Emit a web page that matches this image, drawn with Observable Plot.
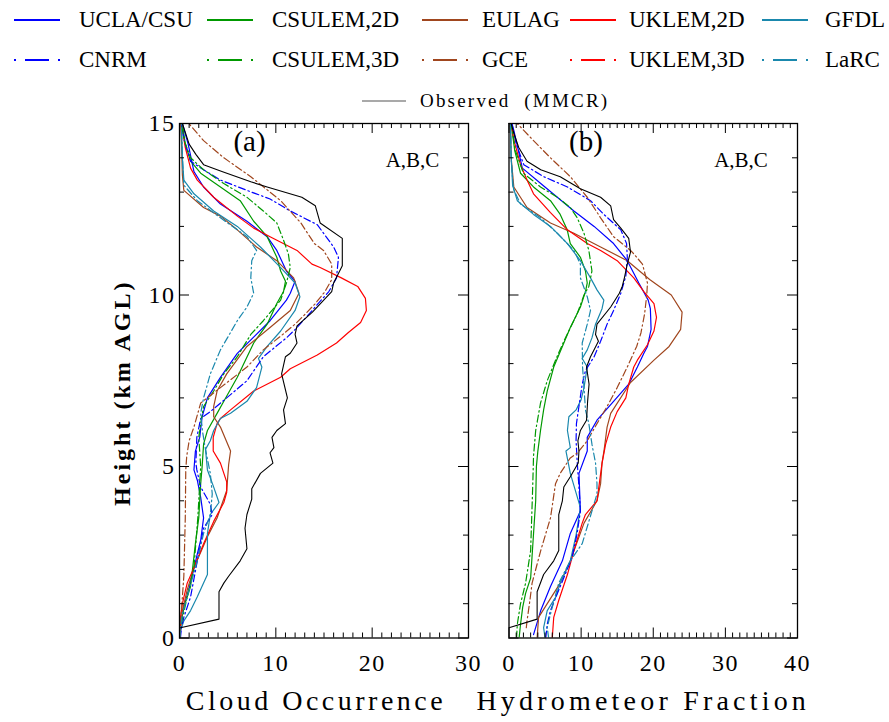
<!DOCTYPE html>
<html>
<head>
<meta charset="utf-8">
<script src="https://cdn.jsdelivr.net/npm/d3@7"></script>
<script src="https://cdn.jsdelivr.net/npm/@observablehq/plot@0.6"></script>
<style>
  body { margin: 0; background: #fff; }
  #chart { position: relative; width: 889px; height: 722px; overflow: hidden; font-family: "Liberation Serif", serif; color: #000; }
  #chart svg.panel { position: absolute; left: 0; top: 0; overflow: visible; }
  .leg { position: absolute; height: 30px; line-height: 30px; white-space: pre; }
  .leg svg { position: absolute; top: 0; }
</style>
</head>
<body>
<div id="chart"></div>
<script>
// Series names (legend order) and the observation label
const seriesNames = ["UCLA/CSU", "CSULEM,2D", "EULAG", "UKLEM,2D", "GFDL",
                     "CNRM", "CSULEM,3D", "GCE", "UKLEM,3D", "LaRC"];
const obsName = "Observed  (MMCR)";
const xTitles = ["Cloud Occurrence", "Hydrometeor Fraction"];
const yTitle = "Height (km AGL)";
const panelTags = ["(a)", "(b)"];
const caseTag = "A,B,C";
const xTickLabelsA = [0, 10, 20, 30];
const xTickLabelsB = [0, 10, 20, 30, 40];
const yTickLabels = [0, 5, 10, 15];

// Profiles as [height km, value %]
// Panel (a): cloud occurrence
const uclaA = [[0,0],[0.3,0.05],[0.9,0.45],[1.6,1.15],[2.45,1.85],[2.85,2.2],[3.5,2.5],[4.1,2.2],[4.6,1.85],[4.9,1.5],[5.45,1.65],[5.85,2.1],[6.45,2.35],[7.0,2.9],[7.6,4.25],[8.3,6.0],[8.8,7.8],[9.25,9.4],[9.85,11.1],[10.05,11.5],[10.4,12.0],[10.7,11.1],[11.3,10.1],[11.7,9.1],[12.15,7.0],[12.65,4.25],[13.15,2.5],[13.6,1.5],[14.4,0.9],[15,0.3]];
const csulem2A = [[0,0.05],[0.4,0.1],[0.9,0.45],[1.5,1.15],[2.75,1.65],[3.5,2.0],[4.5,2.2],[5.0,2.35],[5.65,2.5],[6.05,2.9],[6.55,3.9],[6.9,4.6],[7.6,6.0],[8.6,7.7],[9.15,9.1],[9.75,10.1],[10.1,10.8],[10.4,11.0],[10.7,10.5],[11.1,10.1],[11.7,9.1],[12.15,7.7],[12.75,6.3],[13.15,4.25],[13.55,2.2],[13.9,1.15],[14.4,0.6],[15,0.3]];
const eulagA = [[0,0.05],[0.8,0.3],[1.4,0.8],[2.05,1.5],[2.95,2.9],[3.5,3.9],[4.3,4.9],[5.05,5.1],[5.45,5.3],[6.15,4.25],[6.45,3.55],[6.75,3.55],[7.2,3.9],[7.7,4.9],[8.5,7.0],[9.05,9.4],[9.55,11.5],[10.05,12.4],[10.5,11.85],[11.0,10.1],[11.4,8.0],[11.9,6.0],[12.3,4.25],[12.55,2.5],[13.05,0.45],[13.5,0.3],[14.5,0.2],[15,0.1]];
const uklem2A = [[0,0.05],[0.6,0.1],[1.0,0.3],[1.6,0.8],[2.05,1.5],[2.75,2.5],[3.4,3.55],[3.95,4.6],[4.25,4.9],[4.55,4.9],[5.1,4.25],[5.45,3.5],[5.85,3.5],[6.25,3.9],[6.4,4.25],[6.65,5.3],[7.2,7.7],[7.6,10.5],[7.85,11.5],[8.25,14.3],[8.6,16.3],[8.9,17.5],[9.2,18.8],[9.55,19.4],[9.9,19.3],[10.25,18.5],[10.5,16.8],[10.8,14.6],[10.9,13.75],[11.3,12.2],[11.7,9.4],[11.95,7.7],[12.3,6.0],[12.85,3.55],[13.35,1.85],[13.7,1.15],[14.3,0.6],[15,0.2]];
const gfdlA = [[0,0.05],[0.2,0.1],[0.5,0.45],[0.8,1.15],[1.2,1.85],[1.85,2.9],[3.05,2.9],[3.6,3.2],[3.95,4.1],[4.4,3.55],[4.9,2.9],[5.5,2.7],[5.75,3.2],[6.05,3.55],[6.4,4.25],[6.55,5.3],[6.9,7.0],[7.3,8.0],[7.9,8.55],[8.15,8.2],[8.5,9.1],[8.95,10.5],[9.55,12.0],[9.95,12.5],[10.35,12.0],[10.8,10.5],[11.4,8.4],[12.0,6.0],[12.45,3.55],[12.95,1.5],[13.35,0.45],[14,0.3],[15,0.2]];
const cnrmA = [[0,0.1],[0.3,0.2],[0.6,0.45],[1.2,1.15],[2.25,1.85],[3.2,2.5],[3.6,3.4],[3.9,3.2],[4.4,2.2],[4.9,1.8],[5.1,1.7],[5.85,1.8],[6.4,2.2],[6.6,3.2],[7.0,4.9],[7.5,7.0],[8.2,8.7],[8.75,11.1],[9.05,12.2],[10.1,15.5],[10.5,16.3],[11.1,16.5],[11.4,16.0],[12.05,14.3],[12.45,11.5],[12.8,9.4],[13.05,7.0],[13.35,4.25],[13.65,2.5],[13.9,1.15],[14.5,0.5],[15,0.2]];
const csulem3A = [[0,0.05],[0.3,0.1],[1.2,0.8],[2.05,1.5],[3.5,1.9],[5.0,2.2],[5.85,2.0],[6.25,2.2],[6.75,2.5],[7.2,3.55],[7.7,4.6],[8.2,6.0],[8.85,7.4],[9.25,8.7],[9.85,10.5],[10.35,11.1],[10.8,11.5],[11.2,11.3],[11.6,10.8],[12.1,10.1],[12.45,8.7],[12.85,7.0],[13.25,4.6],[13.65,2.5],[14.0,1.15],[14.5,0.5],[15,0.2]];
const gceA = [[0,0.05],[0.6,0.15],[1.8,0.45],[3.5,0.6],[4.9,0.65],[5.3,0.75],[5.75,1.0],[6.15,1.5],[6.85,2.2],[7.3,4.25],[7.9,7.0],[8.4,8.7],[8.8,10.5],[9.15,12.0],[9.4,12.9],[9.75,14.1],[10.1,15.1],[10.45,15.8],[10.9,15.8],[11.3,14.95],[11.5,14.0],[12.1,12.6],[12.75,10.5],[13.45,7.4],[14.0,4.6],[14.5,2.5],[15,0.97]];
const uklem3A = [];
const larcA = [[0,0.05],[0.3,0.1],[0.7,0.3],[1.2,0.8],[2.25,1.85],[3.05,2.5],[3.6,3.2],[4.2,3.4],[4.8,3.2],[5.5,2.7],[6.0,2.4],[6.55,2.2],[7.0,2.5],[7.7,3.2],[8.4,4.25],[9.25,6.0],[9.65,7.0],[10.05,7.7],[10.5,7.4],[11.0,7.5],[11.3,8.0],[11.7,7.0],[12.25,4.25],[12.75,1.85],[13.2,0.45],[14,0.3],[15,0.2]];
const obsA = [[0.3,0.1],[0.55,4.1],[1.35,4.1],[1.6,4.6],[1.8,5.1],[2.25,6.3],[2.6,7.0],[3.2,6.8],[3.6,7.0],[4.05,7.5],[4.35,7.5],[4.8,8.4],[5.1,9.7],[5.4,9.4],[5.55,9.8],[5.85,9.6],[6.05,10.1],[6.25,11.0],[6.65,10.8],[7.0,11.2],[7.7,10.6],[8.2,11.0],[8.3,11.5],[8.6,12.2],[8.85,12.0],[9.1,12.2],[9.5,13.8],[10.1,15.8],[10.35,16.0],[10.85,16.9],[11.65,16.9],[12.1,14.6],[12.6,14.1],[12.85,12.7],[13.15,9.1],[13.3,7.4],[13.6,4.4],[13.8,2.5],[14.1,1.7],[14.4,1.0],[15,0.3]];

// Panel (b): hydrometeor fraction
const uclaB = [[0.1,3.4],[0.8,4.4],[1.5,5.75],[2.25,7.4],[3.05,8.5],[3.7,9.9],[4.8,9.7],[5.45,10.85],[5.85,10.85],[6.35,12.2],[6.9,14.5],[7.4,16.6],[7.9,17.8],[8.3,18.7],[8.5,19.2],[9.0,19.7],[9.6,19.6],[9.85,19.3],[10.35,18.0],[11.0,16.4],[11.5,14.5],[12.0,11.8],[12.45,9.0],[12.85,6.7],[13.25,4.4],[13.7,1.85],[14.8,0.67],[15,0.4]];
const csulem2B = [[0,1.4],[0.4,1.6],[0.9,1.9],[1.3,2.3],[1.75,3.0],[4.0,3.7],[5.0,3.8],[5.45,4.0],[6.05,4.37],[6.65,4.8],[7.2,5.3],[7.9,6.2],[8.5,7.4],[9.05,8.5],[9.65,9.9],[10.1,10.6],[10.35,10.85],[10.7,10.6],[11.1,9.9],[11.5,8.5],[11.9,8.07],[12.35,7.1],[12.75,5.75],[13.15,3.4],[13.55,1.6],[14.2,0.8],[15,0.3]];
const eulagB = [[0,3.9],[0.6,4.1],[1.6,7.1],[2.25,8.5],[3.35,10.4],[4.0,12.2],[4.5,12.7],[5.1,12.9],[5.5,13.2],[6.15,13.6],[6.55,14.1],[7.45,16.85],[8.1,20.1],[8.5,22.2],[9.0,23.8],[9.5,24.0],[10.0,22.5],[10.45,19.5],[11.0,16.4],[11.4,12.7],[11.8,9.0],[12.1,5.75],[12.55,2.5],[13.15,0.67],[14,0.3],[15,0.2]];
const uklem2B = [[0,6.0],[0.6,6.2],[1.1,6.9],[1.85,8.1],[2.55,9.0],[3.35,10.15],[3.6,10.6],[4.0,12.2],[5.1,12.9],[5.65,13.4],[6.15,14.1],[6.6,15.0],[7.0,16.2],[7.4,16.6],[7.9,17.3],[8.1,17.8],[8.55,19.2],[8.95,20.1],[9.35,20.45],[9.75,20.1],[10.1,18.7],[10.5,17.3],[11.0,15.0],[11.3,12.7],[11.5,10.85],[11.9,8.1],[12.4,5.75],[12.95,3.4],[13.35,2.5],[13.8,1.6],[14.5,0.7],[15,0.3]];
const gfdlB = [[0,5.0],[0.3,4.8],[0.8,5.3],[1.2,6.5],[1.6,7.1],[2.25,8.5],[3.0,9.3],[3.8,9.9],[4.8,8.5],[5.45,7.9],[5.55,8.5],[6.05,8.1],[6.45,8.3],[6.65,9.3],[6.95,10.0],[7.3,10.4],[7.9,10.85],[8.15,10.15],[8.4,10.85],[8.75,11.5],[9.15,12.0],[9.6,12.9],[9.85,13.15],[10.15,12.2],[10.5,11.3],[11.0,9.9],[11.5,8.1],[12.0,5.75],[12.35,3.4],[12.75,1.15],[13.2,0.5],[14,0.3],[15,0.2]];
const cnrmB = [[0,5.1],[0.4,5.3],[0.8,5.75],[1.5,7.1],[2.35,8.75],[3.05,9.45],[3.7,9.9],[4.4,9.7],[5.15,9.45],[5.75,9.3],[6.25,9.35],[6.9,9.8],[7.4,10.15],[7.8,10.6],[8.2,11.8],[8.65,12.7],[9.15,13.6],[9.55,14.5],[10.05,15.5],[10.55,16.2],[11.1,16.4],[11.5,16.3],[11.9,15.5],[12.35,13.15],[12.75,11.3],[13.15,8.1],[13.45,4.8],[13.8,2.05],[14.4,1.0],[15,0.4]];
const csulem3B = [[0,1.05],[0.4,1.15],[1.0,1.6],[1.6,2.3],[2.55,3.0],[4.5,3.3],[5.3,3.4],[6.05,3.7],[6.85,4.37],[7.5,5.3],[8.1,6.45],[8.65,7.6],[9.45,9.45],[10.0,10.4],[10.25,11.07],[10.7,11.5],[11.3,11.07],[11.8,10.4],[12.25,9.46],[12.55,8.5],[12.85,6.7],[13.15,4.37],[13.55,2.0],[14.2,0.9],[15,0.3]];
const gceB = [[0.3,2.4],[0.5,2.5],[1.1,2.9],[1.6,3.2],[2.55,4.4],[3.5,5.75],[4.5,6.45],[4.8,7.1],[5.25,8.5],[5.4,9.5],[5.75,10.85],[6.25,12.2],[6.75,13.6],[7.3,15.0],[7.9,16.4],[8.5,17.7],[8.9,18.3],[9.45,18.8],[10.0,19.1],[10.35,19.2],[10.9,18.5],[11.2,17.3],[11.3,16.85],[11.7,14.5],[12.25,12.7],[12.85,10.85],[13.45,8.5],[14.0,5.75],[14.5,3.4],[15,1.14]];
const uklem3B = [];
const larcB = [[0,5.5],[0.3,5.3],[0.7,5.75],[1.6,6.9],[2.25,8.5],[2.75,10.15],[3.7,11.5],[4.2,12.2],[4.5,12.2],[5.1,12.0],[5.65,11.5],[6.25,11.07],[6.65,10.6],[7.3,10.4],[7.9,10.2],[8.6,10.15],[9.15,10.85],[9.55,11.3],[9.95,10.85],[10.5,9.9],[10.9,9.9],[11.3,9.0],[11.8,6.7],[12.25,4.37],[12.65,1.6],[13.1,0.6],[14,0.3],[15,0.2]];
const obsB = [[0.3,0],[0.55,3.9],[1.35,3.9],[1.85,4.8],[2.25,6.2],[2.55,6.9],[3.6,6.9],[4.0,7.4],[4.4,7.6],[4.7,8.5],[5.1,9.6],[5.45,9.7],[5.75,9.55],[6.05,9.9],[6.35,10.75],[6.9,10.9],[7.4,11.1],[7.9,10.75],[8.2,11.3],[8.65,12.4],[8.85,12.0],[9.15,12.2],[9.65,14.1],[10.05,15.3],[10.25,15.7],[10.5,16.0],[10.9,16.4],[11.25,16.85],[11.65,16.6],[11.95,15.5],[12.2,14.5],[12.6,14.1],[12.85,12.7],[13.1,9.9],[13.45,7.1],[13.65,4.4],[13.9,2.5],[14.3,1.35],[14.7,0.7],[15,0.3]];

const profilesA = [uclaA, csulem2A, eulagA, uklem2A, gfdlA, cnrmA, csulem3A, gceA, uklem3A, larcA];
const profilesB = [uclaB, csulem2B, eulagB, uklem2B, gfdlB, cnrmB, csulem3B, gceB, uklem3B, larcB];

// Line styles: solid for the first row of the legend, dash-dot for the second
const palette = ["#0000ff", "#009900", "#a0461e", "#ff0000", "#1a88ad"];
const styleOf = i => ({
  color: palette[i % 5],
  dashed: i >= 5
});
const DASH_PLOT = "7,3,1.5,3";
const DASH_LEGEND = "2,9,24,9,2";

// Layout
const W = 889, H = 722, TOP = 123, BOTTOM = 637.5;
const SERIF = "Liberation Serif";
const chart = document.getElementById("chart");

// widen the spacing of selected labels after rendering
function spaceText(svg, texts, spacing) {
  d3.select(svg).selectAll("text")
    .filter(function() { return texts.includes(this.textContent); })
    .style("letter-spacing", spacing);
}

function panel({profiles, obs, xMax, left, right, xLabels, title, titleSpacing, tag, tagDx, abcDx, showY, titleDx}) {
  const frameW = right - left, frameH = BOTTOM - TOP;
  const minor = d3.range(0, xMax + 1).filter(d => d % 10 !== 0);
  const major = d3.range(0, xMax + 1, 10);
  const yMinor = d3.range(0, 16).filter(d => d % 5 !== 0);
  const yMajor = [0, 5, 10, 15];
  const marks = [];
  profiles.forEach((p, i) => {
    const s = styleOf(i);
    marks.push(Plot.line(p, {x: d => d[1], y: d => d[0], stroke: s.color, strokeWidth: 1.2,
      strokeDasharray: s.dashed ? DASH_PLOT : null, clip: true}));
  });
  marks.push(Plot.line(obs, {x: d => d[1], y: d => d[0], stroke: "#000", strokeWidth: 1.1, clip: true}));
  marks.push(
    Plot.frame({stroke: "#000", strokeWidth: 1.3}),
    // inward ticks on all four sides
    Plot.tickX(minor, {x: d => d, insetTop: frameH - 5, stroke: "#000"}),
    Plot.tickX(major, {x: d => d, insetTop: frameH - 10, stroke: "#000"}),
    Plot.tickX(minor, {x: d => d, insetBottom: frameH - 5, stroke: "#000"}),
    Plot.tickX(major, {x: d => d, insetBottom: frameH - 10, stroke: "#000"}),
    Plot.tickY(yMinor, {y: d => d, insetRight: frameW - 5, stroke: "#000"}),
    Plot.tickY(yMajor, {y: d => d, insetRight: frameW - 10, stroke: "#000"}),
    Plot.tickY(yMinor, {y: d => d, insetLeft: frameW - 5, stroke: "#000"}),
    Plot.tickY(yMajor, {y: d => d, insetLeft: frameW - 10, stroke: "#000"}),
    Plot.text(xLabels, {x: d => d, frameAnchor: "bottom", dy: 25, text: d => String(d),
      fontSize: 24, fontFamily: SERIF, lineAnchor: "middle"}),
    Plot.text([title], {frameAnchor: "bottom", dx: titleDx, dy: 63, text: d => d,
      fontSize: 28, fontFamily: SERIF, lineAnchor: "middle"}),
    Plot.text([tag], {frameAnchor: "top-left", dx: tagDx, dy: 18, text: d => d, textAnchor: "middle",
      lineAnchor: "middle", fontSize: 29, fontFamily: SERIF}),
    Plot.text([caseTag], {frameAnchor: "top-left", dx: abcDx, dy: 37, text: d => d, textAnchor: "middle",
      lineAnchor: "middle", fontSize: 21, fontFamily: SERIF})
  );
  if (showY) {
    marks.push(
      Plot.text(yTickLabels, {y: d => d, frameAnchor: "left", dx: -4, text: d => String(d),
        textAnchor: "end", lineAnchor: "middle", fontSize: 24, fontFamily: SERIF}),
      Plot.text([yTitle], {frameAnchor: "left", dx: -57, dy: 12, rotate: -90, text: d => d,
        textAnchor: "middle", lineAnchor: "middle", fontSize: 24, fontWeight: "bold",
        fontFamily: SERIF})
    );
  }
  const svg = Plot.plot({
    width: W, height: H,
    marginLeft: left, marginRight: W - right, marginTop: TOP, marginBottom: H - BOTTOM,
    x: {domain: [0, xMax], axis: null},
    y: {domain: [0, 15], axis: null},
    style: {background: "transparent", overflow: "visible"},
    marks
  });
  svg.classList.add("panel");
  spaceText(svg, [title], titleSpacing);
  spaceText(svg, [yTitle], "3px");
  spaceText(svg, [...xLabels, ...yTickLabels].map(String), "1.5px");
  return svg;
}

chart.appendChild(panel({profiles: profilesA, obs: obsA, xMax: 30, left: 179, right: 468,
  xLabels: xTickLabelsA, title: xTitles[0], titleSpacing: "3.5px", tag: panelTags[0], tagDx: 70, abcDx: 233,
  showY: true, titleDx: -8}));
chart.appendChild(panel({profiles: profilesB, obs: obsB, xMax: 40, left: 508.5, right: 797,
  xLabels: xTickLabelsB, title: xTitles[1], titleSpacing: "4.2px", tag: panelTags[1], tagDx: 77, abcDx: 232,
  showY: false, titleDx: -10}));

// Legend above the panels
const legendCols = [14, 207, 422, 570, 762];
const legendLabelX = [79, 272, 482, 629, 825];
const legendRows = [20, 60];
seriesNames.forEach((name, i) => {
  const s = styleOf(i);
  const col = i % 5, row = Math.floor(i / 5);
  const item = document.createElement("div");
  item.className = "leg";
  item.style.left = legendCols[col] + "px";
  item.style.top = (legendRows[row] - 15) + "px";
  item.style.width = "200px";
  item.innerHTML =
    `<svg width="46" height="30"><line x1="0" x2="46" y1="15" y2="15" stroke="${s.color}" stroke-width="2.2"` +
    (s.dashed ? ` stroke-dasharray="${DASH_LEGEND}"` : "") + `/></svg>` +
    `<span style="position:absolute;left:${legendLabelX[col] - legendCols[col]}px;font-size:23px;">${name}</span>`;
  chart.appendChild(item);
});
const obsItem = document.createElement("div");
obsItem.className = "leg";
obsItem.style.left = "362px";
obsItem.style.top = (101 - 15) + "px";
obsItem.style.width = "300px";
obsItem.innerHTML = `<svg width="44" height="30"><line x1="0" x2="44" y1="15" y2="15" stroke="#555" stroke-width="1.2"/></svg>` +
  `<span style="position:absolute;left:58px;font-size:19px;letter-spacing:2.2px;">${obsName}</span>`;
chart.appendChild(obsItem);
</script>
</body>
</html>
